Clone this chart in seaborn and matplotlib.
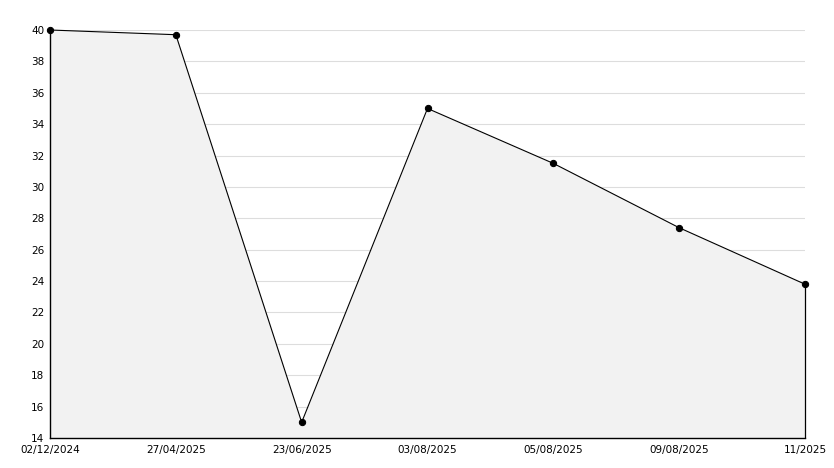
import numpy as np
import pandas as pd
import matplotlib
matplotlib.use("Agg")
import matplotlib.pyplot as plt
import seaborn as sns
from matplotlib.ticker import MultipleLocator

dates = ["02/12/2024", "27/04/2025", "23/06/2025", "03/08/2025",
         "05/08/2025", "09/08/2025", "11/2025"]
values = [40.0, 39.7, 15.0, 35.0, 31.5, 27.4, 23.8]

df = pd.DataFrame({"pos": np.arange(len(dates)), "value": values})

sns.set_style("white")
plt.rcParams['font.family'] = ['DejaVu Sans']

fig = plt.figure(figsize=(8.34, 4.68), dpi=100)
ax = fig.add_axes([50/834, 30/468, 755/834, 408/468])

ax.set_xlim(0, len(dates) - 1)
ax.set_ylim(14, 40)

# light grid under the fill
ax.yaxis.set_major_locator(MultipleLocator(2))
ax.yaxis.set_minor_locator(MultipleLocator(1))
ax.grid(axis="y", which="major", color="#dddddd", linewidth=0.8, zorder=0)
ax.set_axisbelow(True)

ax.fill_between(df["pos"], df["value"], 14, color="#f2f2f2", zorder=1, linewidth=0)
sns.lineplot(data=df, x="pos", y="value", ax=ax, color="black", linewidth=0.8,
             marker="o", markersize=4.5, markeredgecolor="black", zorder=4,
             clip_on=False)
# right edge of the filled area
ax.plot([df["pos"].iloc[-1]] * 2, [14, df["value"].iloc[-1]], color="black",
        linewidth=0.9, zorder=3, clip_on=False)

ax.set_xticks(df["pos"])
ax.set_xticklabels(dates)
ax.set_xlabel("")
ax.set_ylabel("")

for side in ["top", "right"]:
    ax.spines[side].set_visible(False)
for side in ["left", "bottom"]:
    ax.spines[side].set_color("black")
    ax.spines[side].set_linewidth(1.0)

ax.tick_params(axis="both", which="major", direction="in", length=5, width=0.8,
               labelsize=7.5, colors="black")
ax.tick_params(axis="x", which="major", pad=5)
ax.tick_params(axis="y", which="major", pad=4)
ax.tick_params(axis="y", which="minor", direction="in", length=3, width=0.8, left=True)

fig.savefig("out.png", dpi=100)
